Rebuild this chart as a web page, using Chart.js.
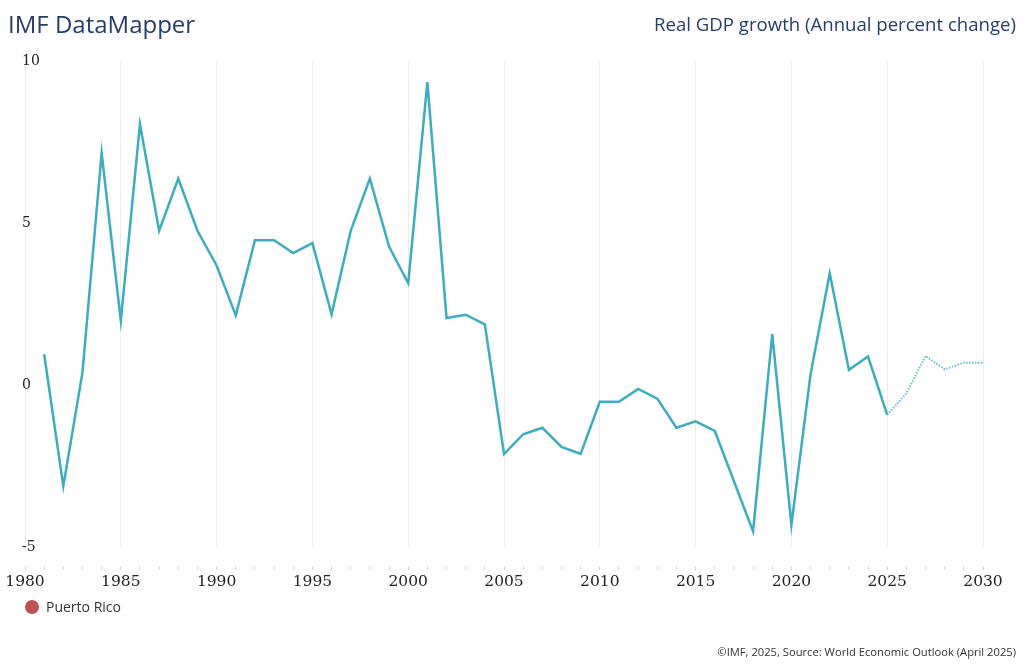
<!DOCTYPE html>
<html lang="en">
  <head>
    <meta charset="UTF-8" />
    <title>IMF DataMapper</title>
    <script src="https://cdn.jsdelivr.net/npm/chart.js"></script>
    <style>
      html, body { margin: 0; padding: 0; background: #fff; }
      body { width: 1024px; height: 668px; position: relative; overflow: hidden; font-family: "Open Sans", sans-serif; }
      #chartBox { position: absolute; left: 0; top: 0; width: 1024px; height: 668px; }
      .title { position: absolute; left: 8px; top: 12px; font-size: 24px; line-height: 24px; color: #253d6b; }
      .subtitle { position: absolute; right: 8px; top: 13px; font-size: 18.6px; line-height: 22px; color: #253d6b; }
      .legend { position: absolute; left: 25px; top: 598px; font-size: 14px; line-height: 18px; color: #333; }
      .legend .dot { display: inline-block; width: 14px; height: 14px; border-radius: 50%; background: #c0504f; vertical-align: -2px; margin-right: 7px; }
      .footer { position: absolute; right: 8px; top: 644px; font-size: 11.2px; line-height: 16px; color: #333; }
    </style>
  </head>
  <body>
    <div id="chartBox"><canvas id="gdpChart" width="1024" height="668"></canvas></div>
    <div class="title">IMF DataMapper</div>
    <div class="subtitle">Real GDP growth (Annual percent change)</div>
    <div class="legend"><span class="dot"></span>Puerto Rico</div>
    <div class="footer">©IMF, 2025, Source: World Economic Outlook (April 2025)</div>

    <script>
      const years = [
        1981, 1982, 1983, 1984, 1985, 1986, 1987, 1988, 1989, 1990,
        1991, 1992, 1993, 1994, 1995, 1996, 1997, 1998, 1999, 2000,
        2001, 2002, 2003, 2004, 2005, 2006, 2007, 2008, 2009, 2010,
        2011, 2012, 2013, 2014, 2015, 2016, 2017, 2018, 2019, 2020,
        2021, 2022, 2023, 2024, 2025, 2026, 2027, 2028, 2029, 2030,
      ];
      const puertoRico = [
        0.95, -3.12, 0.39, 7.16, 1.98, 8.05, 4.76, 6.37, 4.76, 3.69,
        2.15, 4.47, 4.47, 4.07, 4.38, 2.18, 4.76, 6.37, 4.27, 3.14,
        9.35, 2.07, 2.17, 1.87, -2.13, -1.52, -1.32, -1.91, -2.13, -0.52,
        -0.52, -0.12, -0.42, -1.32, -1.12, -1.42, -2.97, -4.52, 1.57, -4.32,
        0.33, 3.45, 0.47, 0.88, -0.92, -0.26, 0.9, 0.48, 0.69, 0.69,
      ];
      const yTicks = [-5, 0, 5, 10];
      const projectionStart = 2025;

      const lineColor = "#3aadc0";
      const projColor = "#62bfcf";

      const ctx = document.getElementById("gdpChart").getContext("2d");
      new Chart(ctx, {
        type: "line",
        data: {
          datasets: [
            {
              label: "Puerto Rico",
              data: years.map((y, i) => ({ x: y, y: puertoRico[i] })),
              borderColor: lineColor,
              borderWidth: 2.5,
              pointRadius: 0,
              tension: 0,
              segment: {
                borderColor: (c) => (c.p0.parsed.x >= projectionStart ? projColor : undefined),
                borderDash: (c) => (c.p0.parsed.x >= projectionStart ? [1.5, 1.5] : undefined),
                borderWidth: (c) => (c.p0.parsed.x >= projectionStart ? 2 : undefined),
              },
            },
          ],
        },
        options: {
          responsive: false,
          animation: false,
          layout: { padding: { left: 0, right: 41, top: 61, bottom: 0 } },
          plugins: { legend: { display: false }, tooltip: { enabled: false } },
          scales: {
            x: {
              type: "linear",
              min: 1980,
              max: 2030,
              afterFit: (scale) => { scale.height = 121; },
              border: { display: false },
              grid: {
                color: (c) => (c.tick && c.tick.value % 5 === 0 ? "#ebebf0" : "rgba(0,0,0,0)"),
                tickColor: "#d4d4dc",
                tickLength: 23,
                tickBorderDash: [0, 19, 4, 100],
                lineWidth: 1,
              },
              ticks: {
                stepSize: 1,
                autoSkip: false,
                maxRotation: 0,
                padding: 3,
                color: "#222",
                font: { family: "DejaVu Serif", size: 15.5 },
                callback: (v) => (v % 5 === 0 ? String(v) : ""),
              },
            },
            y: {
              min: -5,
              max: 10,
              afterFit: (scale) => { scale.width = 25; },
              afterBuildTicks: (scale) => { scale.ticks = yTicks.map((v) => ({ value: v })); },
              border: { display: false },
              grid: { display: false },
              ticks: {
                mirror: true,
                padding: -3,
                color: "#222",
                font: { family: "DejaVu Serif", size: 14 },
              },
            },
          },
        },
      });
    </script>
  </body>
</html>
